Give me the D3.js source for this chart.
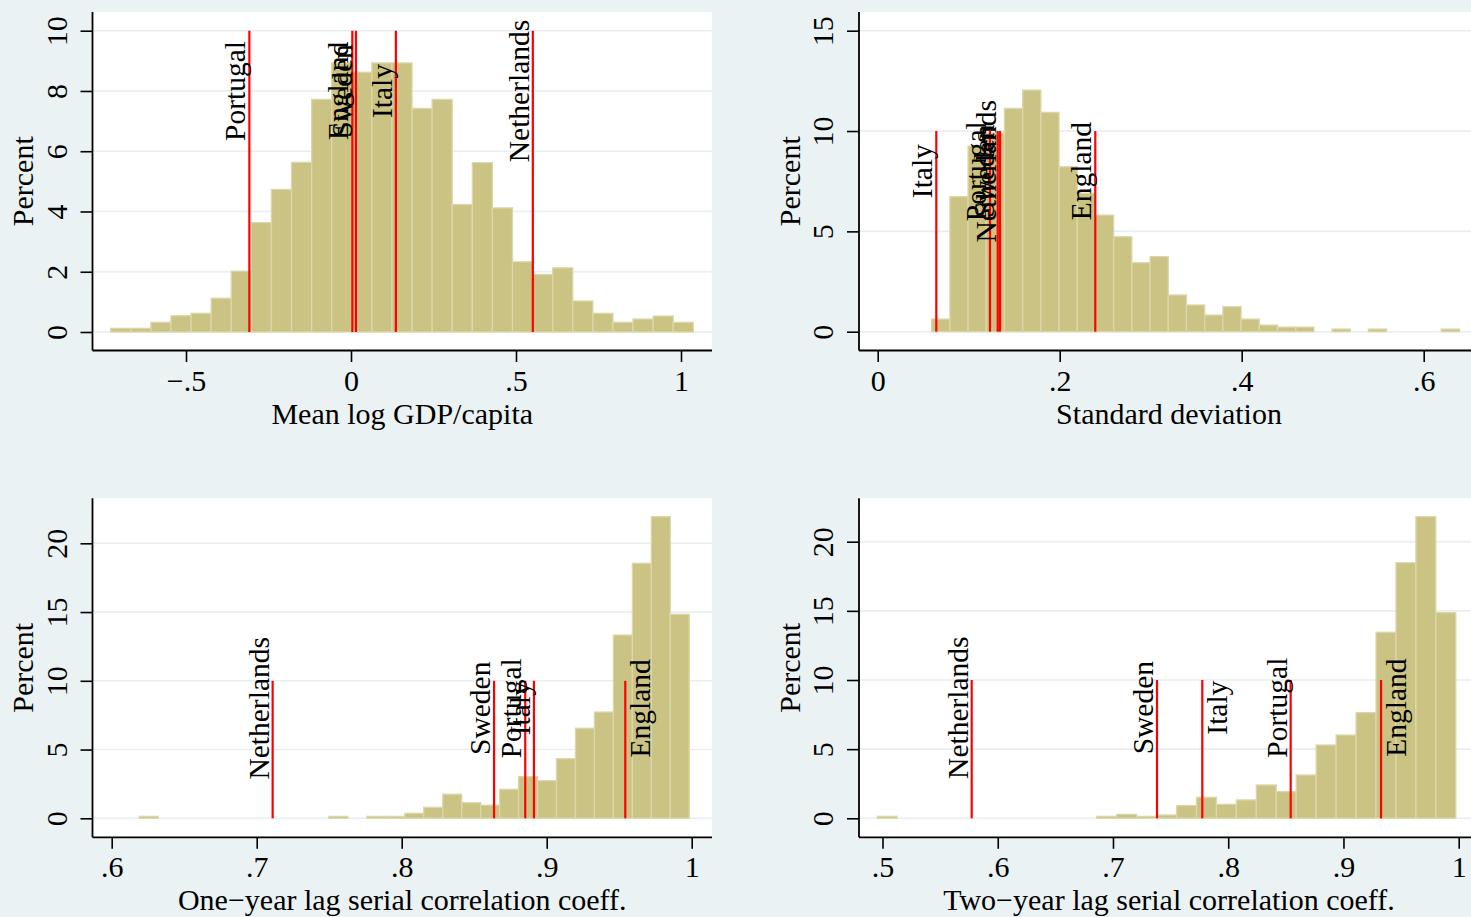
<!DOCTYPE html>
<html>
<head>
<meta charset="utf-8">
<script src="https://cdn.jsdelivr.net/npm/d3@7"></script>
<style>
  body { margin: 0; background: #eaf2f3; }
</style>
</head>
<body>
<div id="chart"></div>
<script>
// histogram bins (percent per bin)
const gdpBinStart = -0.7282, gdpBinWidth = 0.06088;
const gdpPercent = [0.12, 0.12, 0.32, 0.54, 0.62, 1.12, 2.02, 3.63, 4.73, 5.63, 7.72, 8.93, 8.62, 8.93,
    8.93, 7.42, 7.72, 4.23, 5.62, 4.12, 2.33, 1.91, 2.13, 1.03, 0.62, 0.32, 0.43, 0.53, 0.32];

const sdBinStart = 0.0593, sdBinWidth = 0.0200;
const sdPercent = [0.63, 6.73, 9.25, 9.9, 11.13, 12.04, 10.93, 8.22, 6.9, 5.81, 4.73, 3.44, 3.74, 1.83,
    1.33, 0.83, 1.25, 0.63, 0.33, 0.23, 0.23, 0, 0.13, 0, 0.13, 0, 0, 0, 0.13];

const ac1BinStart = 0.619, ac1BinWidth = 0.01308;
const ac1Percent = [0.14, 0, 0, 0, 0, 0, 0, 0, 0, 0, 0.14, 0, 0.14, 0.14, 0.36, 0.8, 1.75, 1.14, 0.95,
    2.11, 3.03, 2.74, 4.34, 6.55, 7.73, 13.33, 18.55, 21.94, 14.84];

const ac2BinStart = 0.4955, ac2BinWidth = 0.01731;
const ac2Percent = [0.14, 0, 0, 0, 0, 0, 0, 0, 0, 0, 0, 0.14, 0.28, 0.14, 0.24, 0.92, 1.52, 1.01, 1.33,
    2.41, 1.93, 3.13, 5.30, 6.02, 7.64, 13.45, 18.48, 21.81, 14.87];

// country reference lines
const gdpMarks = [["Portugal", -0.308], ["England", 0.004], ["Sweden", 0.015], ["Italy", 0.136], ["Netherlands", 0.551]];
const sdMarks = [["Italy", 0.0644], ["Portugal", 0.1234], ["Sweden", 0.1319], ["Netherlands", 0.1344], ["England", 0.2391]];
const ac1Marks = [["Netherlands", 0.711], ["Sweden", 0.8637], ["Portugal", 0.8852], ["Italy", 0.8912], ["England", 0.9542]];
const ac2Marks = [["Netherlands", 0.5774], ["Sweden", 0.7382], ["Italy", 0.7775], ["Portugal", 0.8542], ["England", 0.9326]];

// axis ticks
const gdpXTicks = [-0.5, 0, 0.5, 1], gdpXLabels = ["\u2212.5", "0", ".5", "1"];
const sdXTicks = [0, 0.2, 0.4, 0.6], sdXLabels = ["0", ".2", ".4", ".6"];
const acXTicks1 = [0.6, 0.7, 0.8, 0.9, 1], acXLabels1 = [".6", ".7", ".8", ".9", "1"];
const acXTicks2 = [0.5, 0.6, 0.7, 0.8, 0.9, 1], acXLabels2 = [".5", ".6", ".7", ".8", ".9", "1"];
const yTicks10 = [0, 2, 4, 6, 8, 10], yTicks15 = [0, 5, 10, 15], yTicks20 = [0, 5, 10, 15, 20];

const FONT = '"Liberation Serif", "Times New Roman", Times, serif';
const W = 1471, H = 917;

// layout: plot box + two calibration points per axis
const panels = [
    { l: 92.5, t: 12, r: 712, b: 350.5, xcal: [[0, 351], [1, 681]], ycal: [[0, 332], [10, 30.7]],
      binStart: gdpBinStart, binWidth: gdpBinWidth, values: gdpPercent, marks: gdpMarks, right: [],
      xTicks: gdpXTicks, xLabels: gdpXLabels, yTicks: yTicks10, title: "Mean log GDP/capita" },
    { l: 859, t: 12, r: 1479, b: 350.5, xcal: [[0, 877.7], [0.6, 1423.7]], ycal: [[0, 331.7], [15, 30.7]],
      binStart: sdBinStart, binWidth: sdBinWidth, values: sdPercent, marks: sdMarks, right: [],
      xTicks: sdXTicks, xLabels: sdXLabels, yTicks: yTicks15, title: "Standard deviation" },
    { l: 92.5, t: 498.3, r: 712, b: 837.3, xcal: [[0.6, 111.7], [1, 691.7]], ycal: [[0, 818.3], [20, 543.3]],
      binStart: ac1BinStart, binWidth: ac1BinWidth, values: ac1Percent, marks: ac1Marks, right: ["England"],
      xTicks: acXTicks1, xLabels: acXLabels1, yTicks: yTicks20, title: "One\u2212year lag serial correlation coeff." },
    { l: 859, t: 498.3, r: 1479, b: 837.3, xcal: [[0.5, 882.5], [1, 1458.7]], ycal: [[0, 818.3], [20, 541.7]],
      binStart: ac2BinStart, binWidth: ac2BinWidth, values: ac2Percent, marks: ac2Marks, right: ["Italy", "England"],
      xTicks: acXTicks2, xLabels: acXLabels2, yTicks: yTicks20, title: "Two\u2212year lag serial correlation coeff." }
];

const svg = d3.select("#chart").append("svg")
    .attr("width", W)
    .attr("height", H)
    .style("font-family", FONT);

svg.append("rect").attr("width", W).attr("height", H).attr("fill", "#eaf2f3");

panels.forEach(function(p) {
    let x = d3.scaleLinear().domain([p.xcal[0][0], p.xcal[1][0]]).range([p.xcal[0][1], p.xcal[1][1]]);
    let y = d3.scaleLinear().domain([p.ycal[0][0], p.ycal[1][0]]).range([p.ycal[0][1], p.ycal[1][1]]);

    let g = svg.append("g");

    g.append("rect")
        .attr("x", p.l).attr("y", p.t)
        .attr("width", p.r - p.l).attr("height", p.b - p.t)
        .attr("fill", "white");

    // gridlines
    g.selectAll(".grid")
        .data(p.yTicks)
        .enter()
        .append("line")
        .attr("x1", p.l).attr("x2", p.r)
        .attr("y1", d => y(d)).attr("y2", d => y(d))
        .attr("stroke", "#e6eef1")
        .attr("stroke-width", 1.6);

    // bars
    let bins = p.values.map((v, i) => ({ x0: p.binStart + i * p.binWidth, x1: p.binStart + (i + 1) * p.binWidth, v: v }))
        .filter(d => d.v > 0);
    g.selectAll(".bar")
        .data(bins)
        .enter()
        .append("rect")
        .attr("x", d => x(d.x0))
        .attr("width", d => x(d.x1) - x(d.x0))
        .attr("y", d => y(d.v))
        .attr("height", d => y(0) - y(d.v))
        .attr("fill", "#cbc383")
        .attr("stroke", "#dcd7ab")
        .attr("stroke-width", 1.3);

    // red reference lines
    g.selectAll(".ref")
        .data(p.marks)
        .enter()
        .append("line")
        .attr("x1", d => x(d[1])).attr("x2", d => x(d[1]))
        .attr("y1", y(0)).attr("y2", y(10))
        .attr("stroke", "#ff0000")
        .attr("stroke-width", 2.2);

    g.selectAll(".lab")
        .data(p.marks)
        .enter()
        .append("text")
        .attr("transform", d => {
            let dx = p.right.includes(d[0]) ? 25 : -4;
            return "translate(" + (x(d[1]) + dx) + "," + y(8) + ")rotate(-90)";
        })
        .attr("text-anchor", "middle")
        .style("font-size", "29.5px")
        .attr("fill", "black")
        .text(d => d[0]);

    // y axis
    let yAxis = g.append("g")
        .attr("transform", "translate(" + p.l + ",0)")
        .call(d3.axisLeft(y).tickValues(p.yTicks).tickSize(12).tickFormat(d3.format("d")));
    yAxis.select(".domain").attr("d", "M0," + p.t + "V" + p.b).attr("stroke-width", 1.8);
    yAxis.selectAll(".tick line").attr("stroke-width", 1.6);
    yAxis.selectAll(".tick text")
        .attr("x", null).attr("dy", null)
        .attr("text-anchor", "middle")
        .attr("transform", "translate(-26,0)rotate(-90)")
        .style("font-size", "30px")
        .style("font-family", FONT)
        .attr("fill", "black");

    // x axis
    let xAxis = g.append("g")
        .attr("transform", "translate(0," + p.b + ")")
        .call(d3.axisBottom(x).tickValues(p.xTicks).tickSize(11.5).tickFormat((d, i) => p.xLabels[i]));
    xAxis.select(".domain").attr("d", "M" + p.l + ",0H" + p.r).attr("stroke-width", 1.8);
    xAxis.selectAll(".tick line").attr("stroke-width", 1.6);
    xAxis.selectAll(".tick text")
        .attr("y", 40).attr("dy", null)
        .style("font-size", "30px")
        .style("font-family", FONT)
        .attr("fill", "black");

    // axis titles
    g.append("text")
        .attr("transform", "translate(" + (p.l - 59.5) + "," + ((p.t + p.b) / 2) + ")rotate(-90)")
        .attr("text-anchor", "middle")
        .style("font-size", "30px")
        .text("Percent");

    g.append("text")
        .attr("x", (p.l + p.r) / 2)
        .attr("y", p.b + 73)
        .attr("text-anchor", "middle")
        .style("font-size", "30px")
        .text(p.title);
});
</script>
</body>
</html>
